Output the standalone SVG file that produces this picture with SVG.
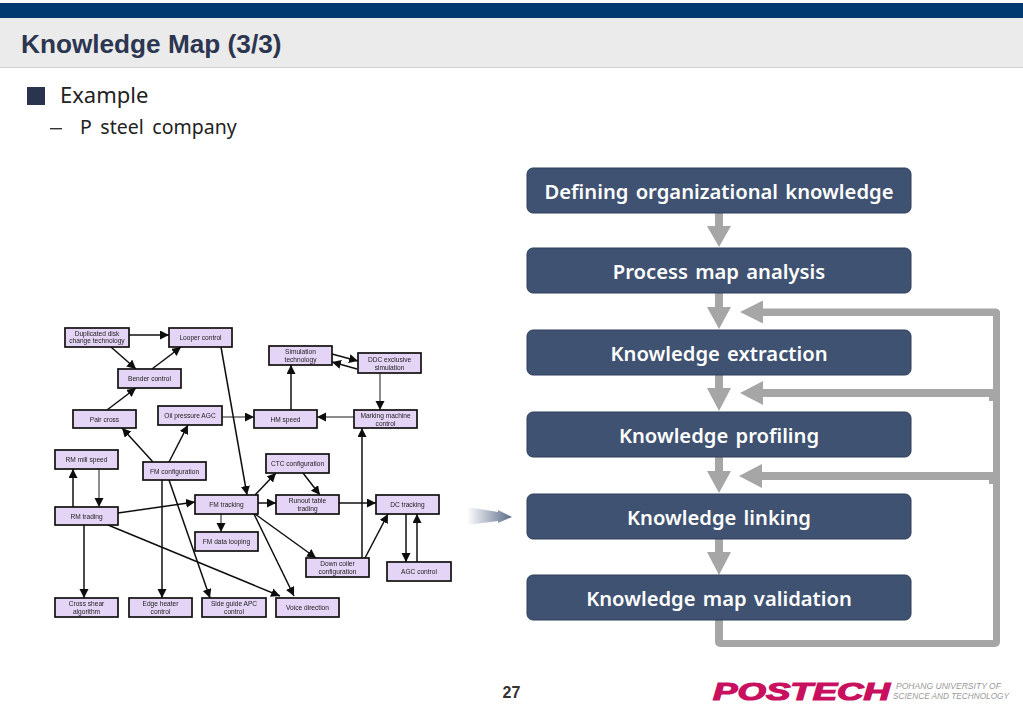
<svg xmlns="http://www.w3.org/2000/svg" width="1023" height="708" viewBox="0 0 1023 708">
<style>
.n rect{fill:#e4d4f6;stroke:#111;stroke-width:1.7}
.n text{font:6.600px "Liberation Sans",Arial,sans-serif;fill:#222;text-anchor:middle}
.c line{stroke:#111;stroke-width:1.5;marker-end:url(#t)}
.c line.g{stroke:#666}
.b rect{fill:#3f5271;stroke:#2f3f5a;stroke-width:1}
.b text{font:600 20.200px "Noto Sans",sans-serif;fill:#fff;text-anchor:middle;word-spacing:2px}
.f{fill:#a6a6a6}
</style>
<defs>
<marker id="t" markerUnits="userSpaceOnUse" markerWidth="10" markerHeight="10" refX="9" refY="4.500" orient="auto"><path d="M0 0L9 4.500L0 9Z" fill="#111"/></marker>
<linearGradient id="ga"><stop offset="0" stop-color="#fff"/><stop offset="1" stop-color="#5a6b88"/></linearGradient>
<filter id="soft" x="-2%" y="-2%" width="104%" height="104%"><feGaussianBlur stdDeviation="0.35"/></filter>
</defs>
<rect width="1023" height="708" fill="#fff"/>
<rect y="3" width="1023" height="15" fill="#003a70"/>
<rect y="18" width="1023" height="49" fill="#ebebeb"/>
<rect y="67" width="1023" height="1" fill="#cfcfcf"/>
<text x="21" y="53" font-family="Liberation Sans,Arial,sans-serif" font-weight="700" font-size="26.200" fill="#2c3650">Knowledge Map (3/3)</text>
<rect x="27" y="87" width="18" height="18" fill="#2b344f"/>
<text x="60" y="103" font-family="Noto Sans,sans-serif" font-size="22" fill="#222">Example</text>
<rect x="50" y="128" width="12" height="1.400" fill="#333"/>
<text x="80" y="134" font-family="Noto Sans,sans-serif" font-size="19.500" word-spacing="3.500" fill="#222">P steel company</text>

<g filter="url(#soft)">
<g id="thumb-connectors" class="c">
<line x1="129" y1="335" x2="169" y2="335"/>
<line x1="111" y1="347" x2="136" y2="369"/>
<line x1="152" y1="369" x2="181" y2="347"/>
<line x1="107" y1="410" x2="136" y2="388"/>
<line x1="153" y1="462" x2="122" y2="428"/>
<line x1="169" y1="462" x2="188" y2="425"/>
<line class="g" x1="222" y1="417" x2="254" y2="417"/>
<line x1="291" y1="410" x2="291" y2="365"/>
<line x1="332" y1="354" x2="358" y2="361"/>
<line x1="357" y1="369" x2="332" y2="362"/>
<line class="g" x1="380" y1="373" x2="380" y2="410"/>
<line class="g" x1="354" y1="417" x2="317" y2="417"/>
<line x1="362" y1="558" x2="362" y2="428"/>
<line x1="221" y1="347" x2="247" y2="495"/>
<line x1="255" y1="495" x2="276" y2="473"/>
<line x1="303" y1="473" x2="320" y2="495"/>
<line x1="258" y1="503" x2="276" y2="503"/>
<line x1="339" y1="503" x2="376" y2="503"/>
<line x1="365" y1="558" x2="388" y2="514"/>
<line x1="406" y1="514" x2="406" y2="562"/>
<line x1="417" y1="562" x2="417" y2="514"/>
<line x1="255" y1="514" x2="316" y2="558"/>
<line x1="254" y1="514" x2="294" y2="596"/>
<line x1="118" y1="513" x2="195" y2="502"/>
<line x1="73" y1="507" x2="73" y2="469"/>
<line class="g" x1="99" y1="469" x2="99" y2="507"/>
<line x1="84" y1="525" x2="84" y2="598"/>
<line x1="108" y1="525" x2="280" y2="596"/>
<line x1="162" y1="480" x2="162" y2="598"/>
<line x1="169" y1="480" x2="210" y2="598"/>
<line class="g" x1="221" y1="514" x2="221" y2="532"/>
</g>
<g id="n-duplicated" class="n"><rect x="65" y="328" width="64" height="19"/><text x="97" y="336">Duplicated disk</text><text x="97" y="343">change technology</text></g>
<g id="n-looper" class="n"><rect x="169" y="328" width="63" height="19"/><text x="200.500" y="340">Looper control</text></g>
<g id="n-bender" class="n"><rect x="118" y="369" width="63" height="19"/><text x="149.500" y="381">Bender control</text></g>
<g id="n-pair" class="n"><rect x="73" y="410" width="63" height="18"/><text x="104.500" y="421.500">Pair cross</text></g>
<g id="n-oil" class="n"><rect x="158" y="406" width="64" height="19"/><text x="190" y="418">Oil pressure AGC</text></g>
<g id="n-rm-mill" class="n"><rect x="55" y="450" width="63" height="19"/><text x="86.500" y="462">RM mill speed</text></g>
<g id="n-fm-config" class="n"><rect x="143" y="462" width="63" height="18"/><text x="174.500" y="473.500">FM configuration</text></g>
<g id="n-simulation" class="n"><rect x="269" y="346" width="63" height="19"/><text x="300.500" y="354">Simulation</text><text x="300.500" y="361.500">technology</text></g>
<g id="n-ddc" class="n"><rect x="358" y="353" width="63" height="20"/><text x="389.500" y="361.500">DDC exclusive</text><text x="389.500" y="369.500">simulation</text></g>
<g id="n-hm" class="n"><rect x="254" y="410" width="63" height="18"/><text x="285.500" y="421.500">HM speed</text></g>
<g id="n-marking" class="n"><rect x="354" y="410" width="63" height="18"/><text x="385.500" y="418">Marking machine</text><text x="385.500" y="425.500">control</text></g>
<g id="n-ctc" class="n"><rect x="266" y="454" width="63" height="19"/><text x="297.500" y="466">CTC configuration</text></g>
<g id="n-fm-tracking" class="n"><rect x="195" y="495" width="63" height="19"/><text x="226.500" y="507">FM tracking</text></g>
<g id="n-runout" class="n"><rect x="276" y="495" width="63" height="19"/><text x="307.500" y="503">Runout table</text><text x="307.500" y="511">trading</text></g>
<g id="n-dc" class="n"><rect x="376" y="495" width="63" height="19"/><text x="407.500" y="507">DC tracking</text></g>
<g id="n-rm-trading" class="n"><rect x="55" y="507" width="63" height="18"/><text x="86.500" y="518.500">RM trading</text></g>
<g id="n-fm-data" class="n"><rect x="195" y="532" width="63" height="19"/><text x="226.500" y="544">FM data looping</text></g>
<g id="n-down" class="n"><rect x="306" y="558" width="63" height="19"/><text x="337.500" y="566">Down coiler</text><text x="337.500" y="574">configuration</text></g>
<g id="n-agc" class="n"><rect x="387" y="562" width="64" height="19"/><text x="419" y="574">AGC control</text></g>
<g id="n-cross" class="n"><rect x="55" y="598" width="63" height="19"/><text x="86.500" y="606">Cross shear</text><text x="86.500" y="614">algorithm</text></g>
<g id="n-edge" class="n"><rect x="129" y="598" width="63" height="19"/><text x="160.500" y="606">Edge heater</text><text x="160.500" y="614">control</text></g>
<g id="n-side" class="n"><rect x="202" y="598" width="64" height="19"/><text x="234" y="606">Side guide APC</text><text x="234" y="614">control</text></g>
<g id="n-voice" class="n"><rect x="276" y="598" width="63" height="19"/><text x="307.500" y="610">Voice direction</text></g>
</g>

<path id="pointer" d="M467 507L498 512V510L512 517L498 523V521L467 525Z" fill="url(#ga)"/>

<g id="flow-connectors" class="f">
<path d="M715 213h8v13h8l-12 21l-12-21h8z"/>
<path d="M715 293h8v14h8l-12 22l-12-22h8z"/>
<path d="M715 375h8v13h8l-12 23l-12-23h8z"/>
<path d="M715 457h8v14h8l-12 22l-12-22h8z"/>
<path d="M715 539h8v13h8l-12 23l-12-23h8z"/>
<path d="M715 620h8v20h270V316h-230v7.500l-23-11.500l23-11.500V308.500h232a5 5 0 0 1 5 3V642a5 5 0 0 1-5 5H720a5 5 0 0 1-5-5z"/>
<path d="M993 389h-230v-8l-23 12l23 12v-8h226v4h4z"/>
<path d="M993 472h-231v-8l-23 12l23 12v-8h227v4h4z"/>
</g>

<g id="b1" class="b"><rect x="527" y="168" width="384" height="45" rx="6"/><text x="719" y="198.500">Defining organizational knowledge</text></g>
<g id="b2" class="b"><rect x="527" y="248" width="384" height="45" rx="6"/><text x="719" y="279">Process map analysis</text></g>
<g id="b3" class="b"><rect x="527" y="330" width="384" height="45" rx="6"/><text x="719" y="360.500">Knowledge extraction</text></g>
<g id="b4" class="b"><rect x="527" y="412" width="384" height="45" rx="6"/><text x="719" y="442.500">Knowledge profiling</text></g>
<g id="b5" class="b"><rect x="527" y="494" width="384" height="45" rx="6"/><text x="719" y="524.500">Knowledge linking</text></g>
<g id="b6" class="b"><rect x="527" y="575" width="384" height="45" rx="6"/><text x="719" y="606">Knowledge map validation</text></g>

<text x="511.500" y="698" font-family="Liberation Sans,Arial,sans-serif" font-weight="700" font-size="16" fill="#333" text-anchor="middle">27</text>
<text x="713" y="700" font-family="Liberation Sans,Arial,sans-serif" font-weight="700" font-style="italic" font-size="23.500" fill="#c8105f" textLength="177" lengthAdjust="spacingAndGlyphs" stroke="#c8105f" stroke-width="1.200">POSTECH</text>
<text x="896" y="689" font-family="Liberation Sans,Arial,sans-serif" font-style="italic" font-size="8.500" fill="#999" textLength="105" lengthAdjust="spacingAndGlyphs">POHANG UNIVERSITY OF</text>
<text x="893" y="699" font-family="Liberation Sans,Arial,sans-serif" font-style="italic" font-size="8.500" fill="#999" textLength="116" lengthAdjust="spacingAndGlyphs">SCIENCE AND TECHNOLOGY</text>
</svg>
